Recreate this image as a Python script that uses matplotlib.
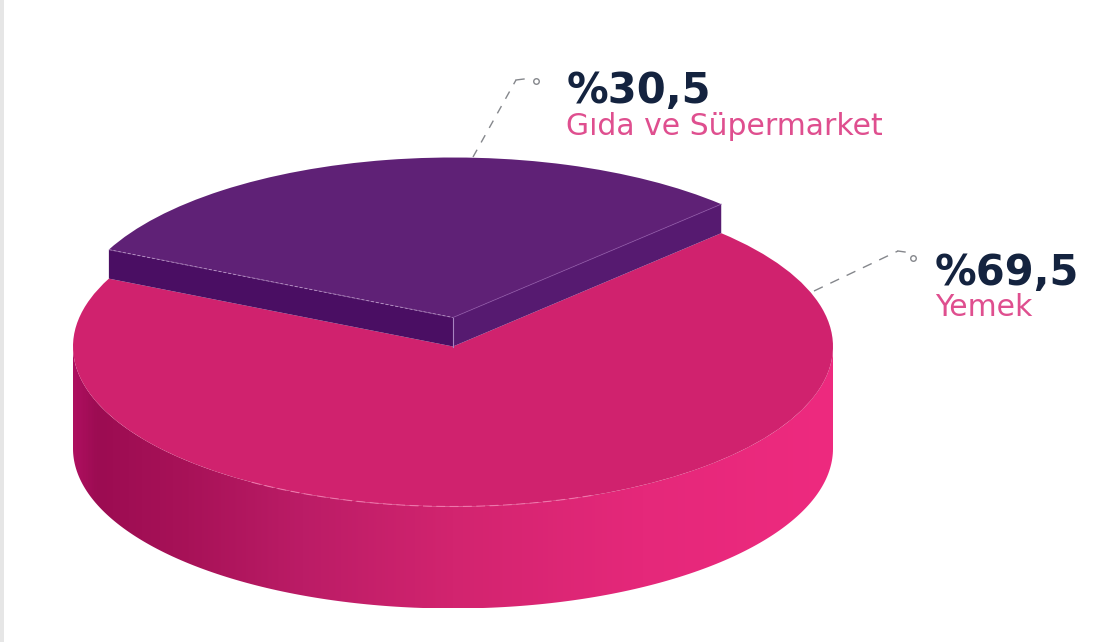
# plot.py
import numpy as np
import matplotlib
matplotlib.use("Agg")
import matplotlib.pyplot as plt
from matplotlib.colors import LinearSegmentedColormap
from matplotlib.patches import Polygon, Rectangle
from matplotlib.transforms import Affine2D

# --- Data ---
categories = ["Gıda ve Süpermarket", "Yemek"]
shares = [30.5, 69.5]
share_labels = ["%30,5", "%69,5"]

# --- Look of the disc (pixels of the picture) ---
CX, CY = 453, 346.5
RX, RY = 380, 160
LIFT = 29      # how far the purple slice stands above the pink top
DEPTH = 102    # height of the pink wall
START = 45.1

fig = plt.figure(figsize=(11.17, 6.42), dpi=100, facecolor="white")
ax = fig.add_axes([0, 0, 1, 1])

# pie in unit circle, then squashed to an ellipse by the transform
wedges, _ = ax.pie(shares, startangle=START, colors=["#5f2176", "#d0226e"], wedgeprops={"linewidth": 0})
ax.set_aspect("auto")
ax.set_xlim(0, 1117)
ax.set_ylim(642, 0)
ax.set_axis_off()


def rim(theta, lift=0):
    t = np.radians(theta)
    return CX + RX * np.cos(t), CY - lift - RY * np.sin(t)


purple, pink = wedges
pink.set_transform(Affine2D().scale(RX, -RY).translate(CX, CY) + ax.transData)
purple.set_transform(Affine2D().scale(RX, -RY).translate(CX, CY - LIFT) + ax.transData)
purple.set_zorder(6)
pink.set_zorder(3)

# --- Pink wall with horizontal gradient ---
t = np.linspace(180, 360, 200)
wall_x, wall_y = rim(t)
wall = np.column_stack([np.r_[wall_x, wall_x[::-1]], np.r_[wall_y, wall_y[::-1] + DEPTH]])
wall_patch = Polygon(wall, closed=True, fc="none", ec="none", transform=ax.transData)
ax.add_patch(wall_patch)
cmap = LinearSegmentedColormap.from_list(
    "wall",
    [(0.0, "#ad0f5f"), (0.03, "#9c0c52"), (0.15, "#a81258"), (0.3, "#bb1c66"),
     (0.5, "#d2246f"), (0.75, "#e5287a"), (1.0, "#ee2a7f")],
)
img = ax.imshow(np.linspace(0, 1, 400).reshape(1, -1), cmap=cmap, aspect="auto",
                extent=(CX - RX, CX + RX, CY + RY + DEPTH, CY - 5), zorder=2)
img.set_clip_path(wall_patch)
ax.set_xlim(0, 1117)
ax.set_ylim(642, 0)

# --- Purple slice walls ---
x1, y1 = rim(purple.theta1)
x2, y2 = rim(purple.theta2)
ax.add_patch(Polygon([(x2, y2 - LIFT), (CX, CY - LIFT), (CX, CY), (x2, y2)], fc="#4a0e63", ec="none", zorder=5))
ax.add_patch(Polygon([(x1, y1 - LIFT), (CX, CY - LIFT), (CX, CY), (x1, y1)], fc="#561a70", ec="none", zorder=5))

# thin light edges
ax.plot([x2, CX], [y2 - LIFT, CY - LIFT], color="#c9a6d6", lw=0.7, ls=(0, (3, 2)), alpha=0.7, zorder=7)
ax.plot([x1, CX], [y1 - LIFT, CY - LIFT], color="#8a4fa3", lw=0.7, alpha=0.7, zorder=7)
ax.plot([CX, CX], [CY - LIFT, CY], color="#a884c0", lw=0.8, zorder=7)
arc_x, arc_y = rim(np.linspace(238, 292, 60))
ax.plot(arc_x, arc_y, color="#f27fb2", lw=0.8, ls=(0, (8, 4)), alpha=0.8, zorder=4)

# --- Leader lines ---
LEADER = "#85878c"
ax.plot([473, 516], [157, 80], color=LEADER, lw=1.0, ls=(0, (6, 6)), zorder=8)
ax.plot([516, 524], [80, 79], color=LEADER, lw=1.0, zorder=8)
ax.plot([536], [81], "o", ms=4, mfc="white", mec=LEADER, mew=1.0, zorder=8)
ax.plot([814, 898], [291, 251], color=LEADER, lw=1.0, ls=(0, (7, 6)), zorder=8)
ax.plot([898, 905], [251, 252], color=LEADER, lw=1.0, zorder=8)
ax.plot([913], [258], "o", ms=4, mfc="white", mec=LEADER, mew=1.0, zorder=8)

# --- Labels ---
NAVY = "#14233f"
PINK = "#df4f8f"
ax.text(567, 103, share_labels[0], fontsize=30, fontweight="bold", family="DejaVu Sans", color=NAVY, va="baseline")
ax.text(566, 135, categories[0], fontsize=21.5, family="DejaVu Sans", color=PINK, va="baseline")
ax.text(935, 285, share_labels[1], fontsize=30, fontweight="bold", family="DejaVu Sans", color=NAVY, va="baseline")
ax.text(935, 316, categories[1], fontsize=21.5, family="DejaVu Sans", color=PINK, va="baseline")

# grey strip on the left of the screenshot
ax.add_patch(Rectangle((0, 0), 4, 642, fc="#e6e6e6", ec="none", zorder=9))

fig.savefig("out.png", dpi=100, facecolor="white")
